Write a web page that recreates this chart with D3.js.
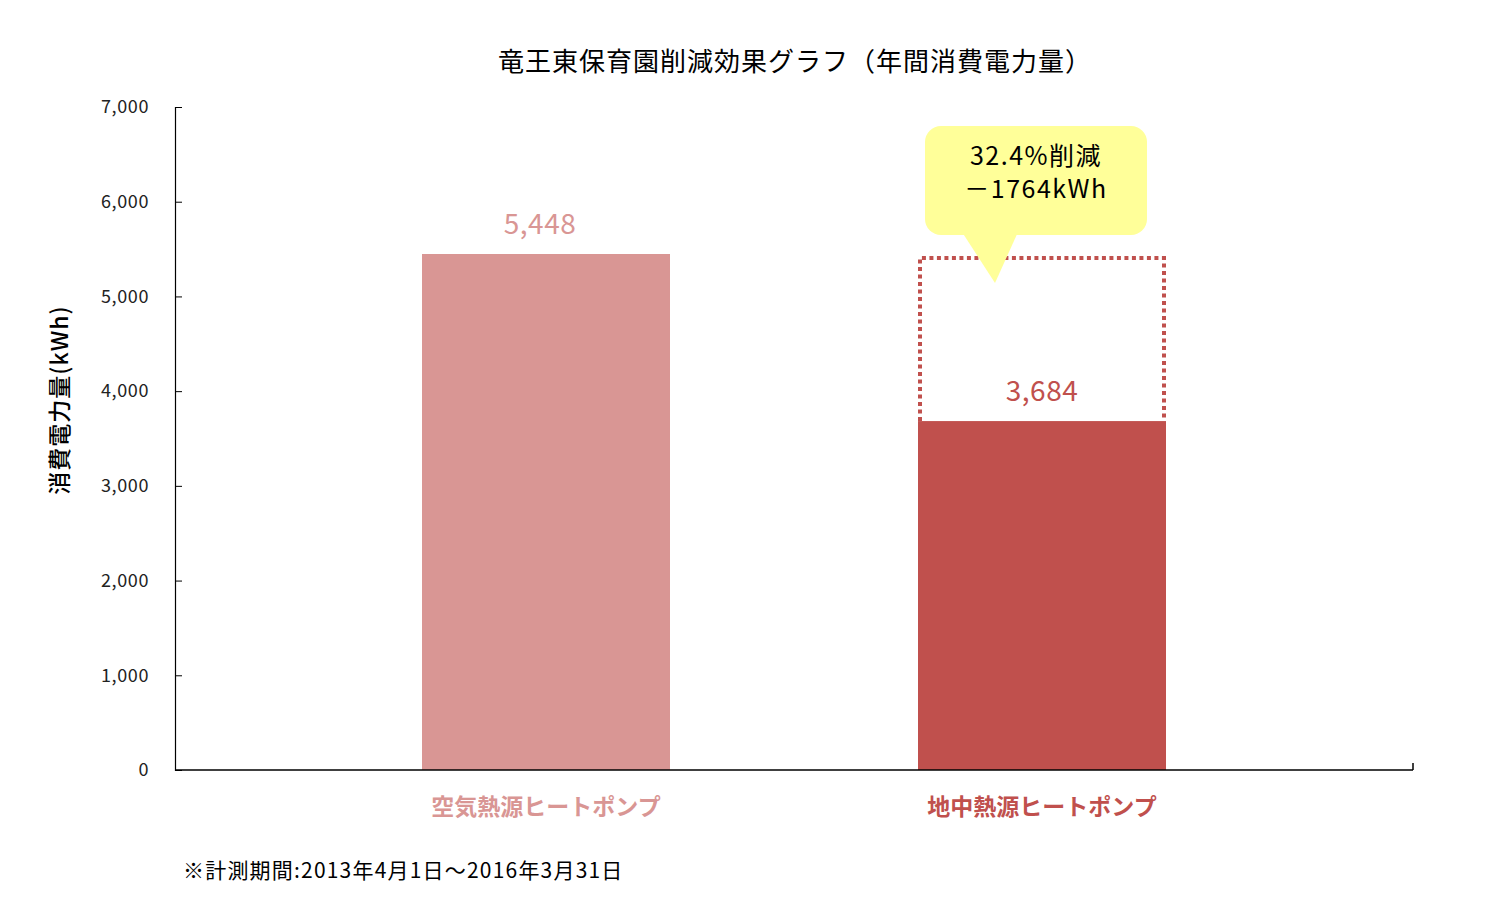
<!DOCTYPE html>
<html>
<head>
<meta charset="utf-8">
<script src="https://cdn.jsdelivr.net/npm/d3@7"></script>
<style>
body { margin: 0; background: #fff; }
text { font-family: "Noto Sans CJK JP", "Noto Sans", sans-serif; }
</style>
</head>
<body>
<svg></svg>
<script>
// data
const categories = ["空気熱源ヒートポンプ", "地中熱源ヒートポンプ"]
const values = [5448, 3684]
const yTicks = [0, 1000, 2000, 3000, 4000, 5000, 6000, 7000]
const barColors = ["#d99694", "#c0504d"]
const calloutLines = ["32.4%削減", "－1764kWh"]

const svg = d3.select("svg")
	.attr("width", 1511)
	.attr("height", 922)

const plotLeft = 175, plotRight = 1413

const scaleY = d3.scaleLinear()
	.domain([0, 7000])
	.range([770, 107])

const scaleX = d3.scaleBand()
	.domain(categories)
	.range([298, 1290])
	.paddingInner(0.5)
	.paddingOuter(0.25)

// title
svg.append("text")
	.attr("x", 795)
	.attr("y", 71)
	.attr("text-anchor", "middle")
	.attr("font-size", 26)
	.attr("letter-spacing", 1)
	.attr("fill", "#000")
	.text("竜王東保育園削減効果グラフ（年間消費電力量）")

// y axis
const yAxis = d3.axisLeft(scaleY)
	.tickValues(yTicks)
	.tickSize(-7)
	.tickPadding(26)
	.tickFormat(d3.format(","))

const gy = svg.append("g")
	.attr("transform", `translate(${plotLeft},0)`)
	.call(yAxis)
gy.select(".domain").attr("stroke", "#000").attr("stroke-width", 1.2)
gy.selectAll(".tick line").attr("stroke", "#000")
gy.selectAll(".tick text")
	.attr("font-size", 18)
	.attr("letter-spacing", 0.6)
	.attr("fill", "#222")
	.attr("font-family", "'Liberation Sans', Arial, sans-serif")

// y label
svg.append("text")
	.attr("transform", "translate(68,400) rotate(-90)")
	.attr("text-anchor", "middle")
	.attr("font-size", 23)
	.attr("font-weight", 500)
	.attr("letter-spacing", 1)
	.attr("fill", "#000")
	.text("消費電力量(kWh)")

// dotted outline of the old consumption on the second bar (three sides)
const ox0 = scaleX(categories[1]) + 2
const ox1 = scaleX(categories[1]) + scaleX.bandwidth() - 2
const oy0 = scaleY(values[0]) + 4
const oy1 = scaleY(values[1])
svg.append("path")
	.attr("d", `M${ox0},${oy1} L${ox0},${oy0} L${ox1},${oy0} L${ox1},${oy1}`)
	.attr("fill", "none")
	.attr("stroke", barColors[1])
	.attr("stroke-width", 4)
	.attr("stroke-dasharray", "4,3.5")

// bars
svg.selectAll("rect.bar")
	.data(values)
	.enter()
	.append("rect")
	.attr("class", "bar")
	.attr("x", (d, i) => scaleX(categories[i]))
	.attr("y", d => scaleY(d))
	.attr("width", scaleX.bandwidth())
	.attr("height", d => scaleY(0) - scaleY(d))
	.attr("fill", (d, i) => barColors[i])

// x axis line
svg.append("line")
	.attr("x1", plotLeft).attr("x2", plotRight)
	.attr("y1", scaleY(0)).attr("y2", scaleY(0))
	.attr("stroke", "#000").attr("stroke-width", 1.5)
svg.append("line")
	.attr("x1", plotRight).attr("x2", plotRight)
	.attr("y1", scaleY(0)).attr("y2", scaleY(0) - 7)
	.attr("stroke", "#000").attr("stroke-width", 1.5)

// value labels
svg.selectAll("text.val")
	.data(values)
	.enter()
	.append("text")
	.attr("class", "val")
	.attr("x", (d, i) => scaleX(categories[i]) + scaleX.bandwidth() / 2 - (i == 0 ? 6 : 0))
	.attr("y", d => scaleY(d) - 20)
	.attr("text-anchor", "middle")
	.attr("font-size", 28)
	.attr("letter-spacing", 0.5)
	.attr("fill", (d, i) => barColors[i])
	.text(d => d3.format(",")(d))

// category labels
svg.selectAll("text.cat")
	.data(categories)
	.enter()
	.append("text")
	.attr("class", "cat")
	.attr("x", d => scaleX(d) + scaleX.bandwidth() / 2)
	.attr("y", 815)
	.attr("text-anchor", "middle")
	.attr("font-size", 23)
	.attr("font-weight", "bold")
	.attr("fill", (d, i) => barColors[i])
	.text(d => d)

// callout
const callout = svg.append("g")
callout.append("path")
	.attr("d", "M962,232 L1018,232 L995,283 Z")
	.attr("fill", "#ffff99")
callout.append("rect")
	.attr("x", 925).attr("y", 126)
	.attr("width", 222).attr("height", 109)
	.attr("rx", 16)
	.attr("fill", "#ffff99")
callout.selectAll("text")
	.data(calloutLines)
	.enter()
	.append("text")
	.attr("x", 1036)
	.attr("y", (d, i) => 165 + i * 33)
	.attr("text-anchor", "middle")
	.attr("font-size", 25)
	.attr("letter-spacing", 1.5)
	.attr("fill", "#000")
	.text(d => d)

// footnote
svg.append("text")
	.attr("x", 183)
	.attr("y", 878)
	.attr("font-size", 21)
	.attr("letter-spacing", 1.2)
	.attr("fill", "#000")
	.text("※計測期間:2013年4月1日～2016年3月31日")
</script>
</body>
</html>
